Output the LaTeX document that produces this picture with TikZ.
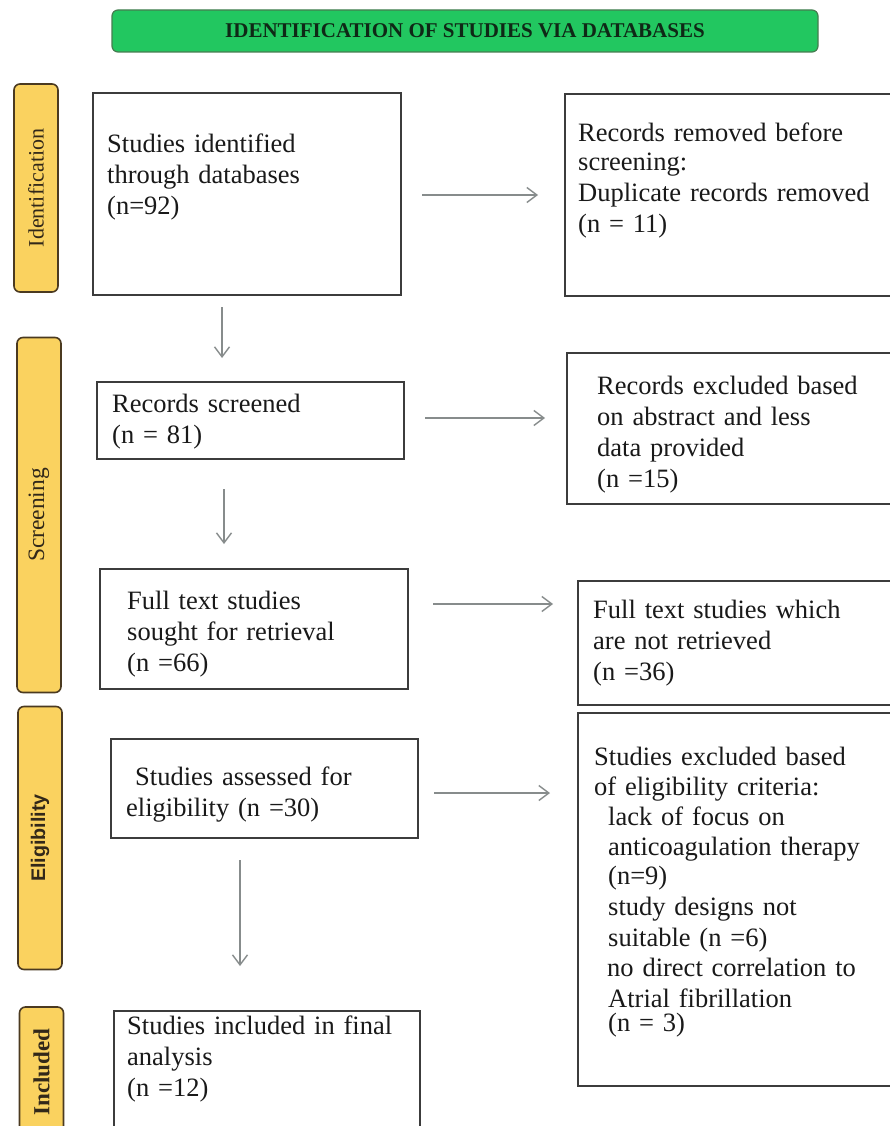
\documentclass[tikz,border=0pt]{standalone}
\usepackage{fontspec}
\setmainfont{Liberation Serif}
\newfontfamily\sidesans{Liberation Sans}
\usetikzlibrary{arrows.meta}
\definecolor{titlegreen}{RGB}{34,199,96}
\definecolor{titleedge}{RGB}{70,125,80}
\definecolor{titleink}{RGB}{15,40,22}
\definecolor{sidefill}{RGB}{250,210,95}
\definecolor{sideedge}{RGB}{75,58,32}
\definecolor{sideink}{RGB}{50,40,25}
\definecolor{boxedge}{RGB}{60,60,60}
\definecolor{ink}{RGB}{25,25,25}
\definecolor{arrowgray}{RGB}{135,140,140}
\tikzset{
  box/.style={draw=boxedge, line width=1.6pt, inner sep=0pt, anchor=north west},
  txt/.style={font=\fontsize{26.5}{31}\selectfont, align=left, inner sep=0pt,
              text=ink, text width=300pt, anchor=base west},
  side/.style={draw=sideedge, fill=sidefill, line width=1.6pt, rounded corners=6pt,
               rotate=90, inner sep=0pt, minimum height=44pt, text=sideink},
  titlebar/.style={draw=titleedge, fill=titlegreen, line width=1.2pt, rounded corners=6pt,
               inner sep=0pt, text=titleink, font=\bfseries\fontsize{21}{24}\selectfont},
  arr/.style={draw=arrowgray, line width=1.4pt, -{Straight Barb[length=10pt,width=15pt,line width=1.4pt]}}
}
\begin{document}
\begin{tikzpicture}[x=1pt,y=-1pt]
\useasboundingbox (0,0) rectangle (890,1126);
\fill[white] (0,0) rectangle (890,1126);

% title
\node[titlebar, minimum width=706pt, minimum height=42pt] (title) at (465,31)
  {IDENTIFICATION OF STUDIES VIA DATABASES};

% side bars
\node[side, minimum width=208pt] (s1) at (36,188)
  {\fontsize{22}{26}\selectfont Identification};
\node[side, minimum width=355pt] (s2) at (39,515)
  {\fontsize{23.5}{26}\selectfont Screening};
\node[side, minimum width=263pt] (s3) at (40,838)
  {\sidesans\bfseries\fontsize{19.7}{22}\selectfont Eligibility};
\node[side, minimum width=130pt] (s4) at (41.5,1072)
  {\bfseries\fontsize{23}{26}\selectfont Included};

% left boxes
\node[box, minimum width=308pt, minimum height=202pt] (b1) at (92,92) {};
\node[box, minimum width=307pt, minimum height=77pt]  (b2) at (96,381) {};
\node[box, minimum width=308pt, minimum height=120pt] (b3) at (99,568) {};
\node[box, minimum width=307pt, minimum height=99pt]  (b4) at (110,738) {};
\node[box, minimum width=306pt, minimum height=118pt] (b5) at (113,1010) {};

% right boxes
\node[box, minimum width=326pt, minimum height=202pt] (r1) at (564,93) {};
\node[box, minimum width=326pt, minimum height=151pt] (r2) at (566,352) {};
\node[box, minimum width=315pt, minimum height=124pt] (r3) at (577,580) {};
\node[box, minimum width=315pt, minimum height=373pt] (r4) at (577,712) {};

% texts
\node[txt] (t1) at (107,153) {Studies identified\\through databases\\(n=92)};
\node[txt] (t2) at (112,412) {Records screened\\(n = 81)};
\node[txt] (t3) at (127,609) {Full text studies\\sought for retrieval\\(n =66)};
\node[txt] (t4) at (126,785) {\hspace*{9pt}Studies assessed for\\eligibility (n =30)};
\node[txt] (t5) at (127,1034) {Studies included in final\\analysis\\(n =12)};

\node[txt] (u1) at (578,142) {Records removed before\\[-2pt]screening:\\Duplicate records removed\\(n = 11)};
\node[txt] (u2) at (597,394) {Records excluded based\\on abstract and less\\data provided\\(n =15)};
\node[txt] (u3) at (593,618) {Full text studies which\\are not retrieved\\(n =36)};
\node[txt] (u4) at (594,765) {Studies excluded based\\[-1pt]
of eligibility criteria:\\[-1pt]
\hspace*{14pt}lack of focus on\\[-1pt]
\hspace*{14pt}anticoagulation therapy\\[-2pt]
\hspace*{14pt}(n=9)\\
\hspace*{14pt}study designs not\\
\hspace*{14pt}suitable (n =6)\\[-1pt]
\hspace*{13pt}no direct correlation to\\
\hspace*{14pt}Atrial fibrillation\\[-7pt]
\hspace*{14pt}(n = 3)};

% arrow end points
\coordinate (h1s) at (422,195); \coordinate (h1e) at (538,195);
\coordinate (v1s) at (222,307); \coordinate (v1e) at (222,358);
\coordinate (h2s) at (425,418); \coordinate (h2e) at (545,418);
\coordinate (v2s) at (224,489); \coordinate (v2e) at (224,544);
\coordinate (h3s) at (433,604); \coordinate (h3e) at (553,604);
\coordinate (h4s) at (434,793); \coordinate (h4e) at (550,793);
\coordinate (v3s) at (240,860); \coordinate (v3e) at (240,966);

\draw[arr] (h1s) -- (h1e);
\draw[arr] (v1s) -- (v1e);
\draw[arr] (h2s) -- (h2e);
\draw[arr] (v2s) -- (v2e);
\draw[arr] (h3s) -- (h3e);
\draw[arr] (h4s) -- (h4e);
\draw[arr] (v3s) -- (v3e);
\end{tikzpicture}
\end{document}
